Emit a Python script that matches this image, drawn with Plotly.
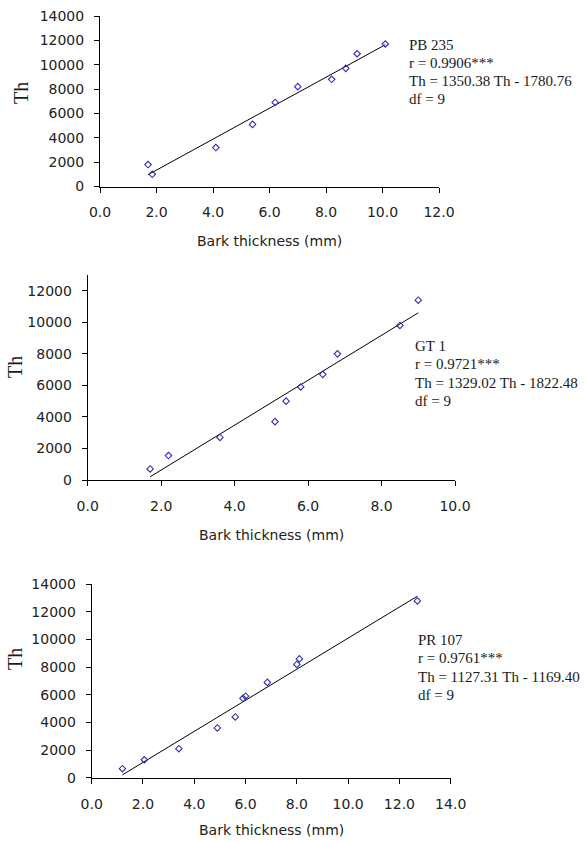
import numpy as np
import plotly.graph_objects as go

W, H = 586, 841

# ---------------- data ----------------
pb_x = [1.7, 1.85, 4.1, 5.4, 6.2, 7.0, 8.2, 8.7, 9.1, 10.1]
pb_y = [1800, 1000, 3200, 5100, 6900, 8200, 8800, 9700, 10900, 11700]

gt_x = [1.7, 2.2, 3.6, 5.1, 5.4, 5.8, 6.4, 6.8, 8.5, 9.0]
gt_y = [700, 1550, 2700, 3700, 5000, 5900, 6700, 8000, 9800, 11400]

pr_x = [1.2, 2.05, 3.4, 4.9, 5.6, 5.9, 6.0, 6.85, 8.0, 8.1, 12.7]
pr_y = [650, 1300, 2100, 3600, 4400, 5750, 5900, 6900, 8200, 8600, 12800]

pb_text = ["PB 235", "r = 0.9906***", "Th = 1350.38 Th - 1780.76", "df = 9"]
gt_text = ["GT 1", "r = 0.9721***", "Th = 1329.02 Th - 1822.48", "df = 9"]
pr_text = ["PR 107", "r = 0.9761***", "Th = 1127.31 Th - 1169.40", "df = 9"]

x_title = "Bark thickness (mm)"
y_title = "Th"

panels = [
    dict(x=pb_x, y=pb_y, text=pb_text, xr=[0, 12], ymax=14000, ytop=14000,
         px=(100, 439), py=(16, 186.5), tx=407, ty=44.5, ytx=21, yty=93, xty=241),
    dict(x=gt_x, y=gt_y, text=gt_text, xr=[0, 10], ymax=13000, ytop=12000,
         px=(87.7, 455), py=(275, 480), tx=413, ty=346, ytx=15, yty=367, xty=535),
    dict(x=pr_x, y=pr_y, text=pr_text, xr=[0, 14], ymax=14000, ytop=14000,
         px=(91.7, 450.7), py=(584.3, 777.7), tx=416, ty=640, ytx=15, yty=659, xty=830),
]

fig = go.Figure()
annotations = []
tickfont = dict(family="DejaVu Sans", size=14, color="#222222")

for i, p in enumerate(panels, start=1):
    xa = "x" if i == 1 else f"x{i}"
    ya = "y" if i == 1 else f"y{i}"
    xs = np.array(p["x"])
    ys = np.array(p["y"])
    slope, icpt = np.polyfit(xs, ys, 1)
    lx = np.array([xs.min(), xs.max()])
    fig.add_trace(go.Scatter(x=lx, y=slope * lx + icpt, mode="lines",
                             line=dict(color="black", width=1),
                             xaxis=xa, yaxis=ya, showlegend=False, hoverinfo="skip"))
    fig.add_trace(go.Scatter(x=xs, y=ys, mode="markers",
                             marker=dict(symbol="diamond-open", size=5,
                                         color="#3030b0", line=dict(width=1.1, color="#3030b0")),
                             xaxis=xa, yaxis=ya, showlegend=False))

    xdom = [p["px"][0] / W, p["px"][1] / W]
    ydom = [1 - p["py"][1] / H, 1 - p["py"][0] / H]
    xkey = "xaxis" if i == 1 else f"xaxis{i}"
    ykey = "yaxis" if i == 1 else f"yaxis{i}"
    fig.update_layout({
        xkey: dict(domain=xdom, range=p["xr"], tick0=0, dtick=2, tickformat=".1f",
                   showline=True, linecolor="black", linewidth=1, ticks="outside",
                   ticklen=5, tickcolor="black", showgrid=False, zeroline=False,
                   tickfont=tickfont, anchor=ya, automargin=False,
                   ticklabelstandoff=8),
        ykey: dict(domain=ydom, range=[0, p["ymax"]], tickvals=list(range(0, p["ytop"] + 1, 2000)),
                   tickformat="d",
                   showline=True, linecolor="black", linewidth=1, ticks="outside",
                   ticklen=5, tickcolor="black", showgrid=False, zeroline=False,
                   tickfont=tickfont, anchor=xa, automargin=False,
                   ticklabelstandoff=7),
    })

    for k, line in enumerate(p["text"]):
        annotations.append(dict(text=line, xref="paper", yref="paper",
                                x=p["tx"] / W, y=1 - (p["ty"] + 18.3 * k) / H,
                                xanchor="left", yanchor="middle", showarrow=False,
                                font=dict(family="Liberation Serif", size=15, color="#1a1a1a")))
    annotations.append(dict(text=y_title, xref="paper", yref="paper",
                            x=p["ytx"] / W, y=1 - p["yty"] / H, textangle=-90,
                            xanchor="center", yanchor="middle", showarrow=False,
                            font=dict(family="Liberation Serif", size=20, color="#1a1a1a")))
    annotations.append(dict(text=x_title, xref="paper", yref="paper",
                            x=(p["px"][0] + p["px"][1]) / 2 / W, y=1 - p["xty"] / H,
                            xanchor="center", yanchor="middle", showarrow=False,
                            font=dict(family="DejaVu Sans", size=14, color="#222222")))

fig.update_layout(width=W, height=H, margin=dict(l=0, r=0, t=0, b=0),
                  paper_bgcolor="white", plot_bgcolor="white",
                  template="none", annotations=annotations, showlegend=False)

fig.write_html("out.html")
